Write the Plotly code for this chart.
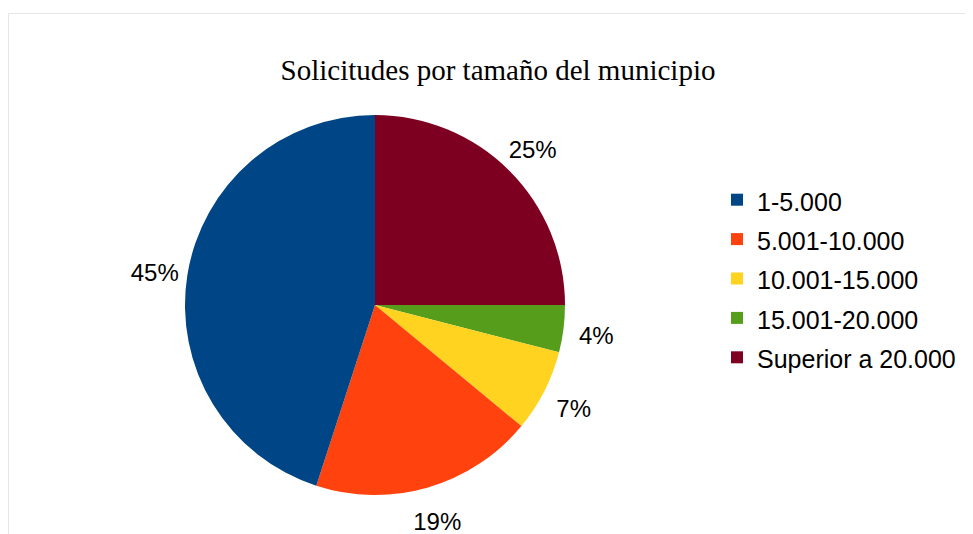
import plotly.graph_objects as go

categories = ["1-5.000", "5.001-10.000", "10.001-15.000", "15.001-20.000", "Superior a 20.000"]
values = [45, 19, 7, 4, 25]
colors = ["#004586", "#ff420e", "#ffd320", "#579d1c", "#7e0021"]
title_text = "Solicitudes por tamaño del municipio"

# page has an 8px body margin; figure coordinates are page coordinates minus 8
W, H = 965, 526
cx, cy, r = 367, 297, 190
# invisible polar frame used to place the percentage labels (centre slightly lower than the pie)
pcx, pcy, rp = 367, 302, 224
r_label = 223     # label centre distance from centre, px

total = sum(values)
pct_text = [f"{round(100 * v / total)}%" for v in values]
mid_theta = []
acc = 0
for v in values:
    mid_theta.append(360 * (acc + v / 2) / total)
    acc += v


def dom(x0, y0, rad):
    return dict(x=[(x0 - rad) / W, (x0 + rad) / W], y=[(H - y0 - rad) / H, (H - y0 + rad) / H])


# slices drawn clockwise from 12 o'clock in reverse order (= counterclockwise in list order);
# legend reversed back so it reads in list order
rev_labels = [f'<span style="font-size:25px">{c}</span>' for c in categories][::-1]

fig = go.Figure()
fig.add_trace(go.Pie(
    labels=rev_labels,
    values=values[::-1],
    sort=False,
    direction="clockwise",
    rotation=0,
    marker=dict(colors=colors[::-1], line=dict(width=0)),
    textinfo="none",
    hoverinfo="label+percent",
    domain=dom(cx, cy, r),
))
fig.add_trace(go.Scatterpolar(
    r=[r_label / rp] * len(values),
    theta=mid_theta,
    mode="text",
    text=pct_text,
    textposition="middle center",
    textfont=dict(family="Liberation Sans", size=24, color="black"),
    hoverinfo="skip",
    showlegend=False,
    cliponaxis=False,
))

fig.update_layout(
    width=W, height=H,
    margin=dict(l=0, r=0, t=0, b=0),
    paper_bgcolor="white",
    plot_bgcolor="white",
    polar=dict(
        domain=dom(pcx, pcy, rp),
        bgcolor="rgba(0,0,0,0)",
        radialaxis=dict(range=[0, 1], visible=False, showgrid=False),
        angularaxis=dict(direction="counterclockwise", rotation=90, visible=False, showgrid=False),
    ),
    title=dict(text=title_text, x=490 / W, y=1 - 62 / H, xanchor="center", yanchor="middle",
               font=dict(family="Liberation Serif", size=29, color="black")),
    legend=dict(x=709 / W, y=1 - 167 / H, xanchor="left", yanchor="top", traceorder="reversed",
                font=dict(family="Liberation Sans", size=28, color="black"),
                bgcolor="rgba(0,0,0,0)"),
    shapes=[dict(type="rect", xref="paper", yref="paper",
                 x0=0.5 / W, x1=1.05, y0=-0.05, y1=1 - 5.5 / H,
                 line=dict(color="#e6e6e6", width=1), fillcolor="rgba(0,0,0,0)", layer="below")],
)

fig.write_html("out.html")
